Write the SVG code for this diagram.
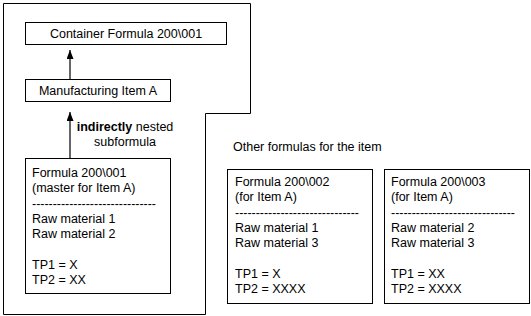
<svg xmlns="http://www.w3.org/2000/svg" width="531" height="316" viewBox="0 0 531 316">
<style>
text{font-family:"Liberation Sans",Arial,sans-serif;font-size:12.5px;fill:#000}
.box{fill:#fff;stroke:#000;stroke-width:1}
.c{text-anchor:middle}
.conn{stroke:#000;stroke-width:1.2;fill:none}
</style>
<defs>
<marker id="ah" markerUnits="userSpaceOnUse" markerWidth="10" markerHeight="8" refX="9" refY="3.5" orient="auto">
<path d="M0,0 L9,3.5 L0,7 z" fill="#000"/>
</marker>
</defs>
<rect width="531" height="316" fill="#fff"/>
<path id="frame" d="M3.5,3.5 H250.5 V113.5 H205.5 V314.5 H3.5 Z" fill="none" stroke="#000" stroke-width="1"/>
<g id="container">
<rect class="box" x="25.5" y="22.5" width="201" height="22"/>
<text class="c" x="126" y="38">Container Formula 200\001</text>
</g>
<g id="item">
<rect class="box" x="25.5" y="79.5" width="145" height="22"/>
<text class="c" x="98" y="95">Manufacturing Item A</text>
</g>
<g id="label">
<text class="c" x="125" y="131"><tspan font-weight="bold">indirectly</tspan> nested</text>
<text class="c" x="125" y="146">subformula</text>
</g>
<g id="formula1">
<rect class="box" x="25.5" y="158.5" width="145" height="135"/>
<text x="32" y="177">Formula 200\001</text>
<text x="32" y="192.3">(master for Item A)</text>
<text x="32" y="207.6" textLength="124" lengthAdjust="spacingAndGlyphs">------------------------------</text>
<text x="32" y="223">Raw material 1</text>
<text x="32" y="238">Raw material 2</text>
<text x="32" y="268.5">TP1 = X</text>
<text x="32" y="283.5">TP2 = XX</text>
</g>
<text id="other" x="233" y="151">Other formulas for the item</text>
<g id="formula2">
<rect class="box" x="227.5" y="169.5" width="145" height="134"/>
<text x="235" y="186">Formula 200\002</text>
<text x="235" y="201.3">(for Item A)</text>
<text x="235" y="216.6" textLength="124" lengthAdjust="spacingAndGlyphs">------------------------------</text>
<text x="235" y="232">Raw material 1</text>
<text x="235" y="247">Raw material 3</text>
<text x="235" y="277.5">TP1 = X</text>
<text x="235" y="292.5">TP2 = XXXX</text>
</g>
<g id="formula3">
<rect class="box" x="384.5" y="169.5" width="145" height="134"/>
<text x="391" y="186">Formula 200\003</text>
<text x="391" y="201.3">(for Item A)</text>
<text x="391" y="216.6" textLength="124" lengthAdjust="spacingAndGlyphs">------------------------------</text>
<text x="391" y="232">Raw material 2</text>
<text x="391" y="247">Raw material 3</text>
<text x="391" y="277.5">TP1 = XX</text>
<text x="391" y="292.5">TP2 = XXXX</text>
</g>
<g id="connectors">
<line class="conn" x1="70" y1="79" x2="70" y2="50" marker-end="url(#ah)"/>
<line class="conn" x1="70" y1="158" x2="70" y2="112" marker-end="url(#ah)"/>
</g>
</svg>
